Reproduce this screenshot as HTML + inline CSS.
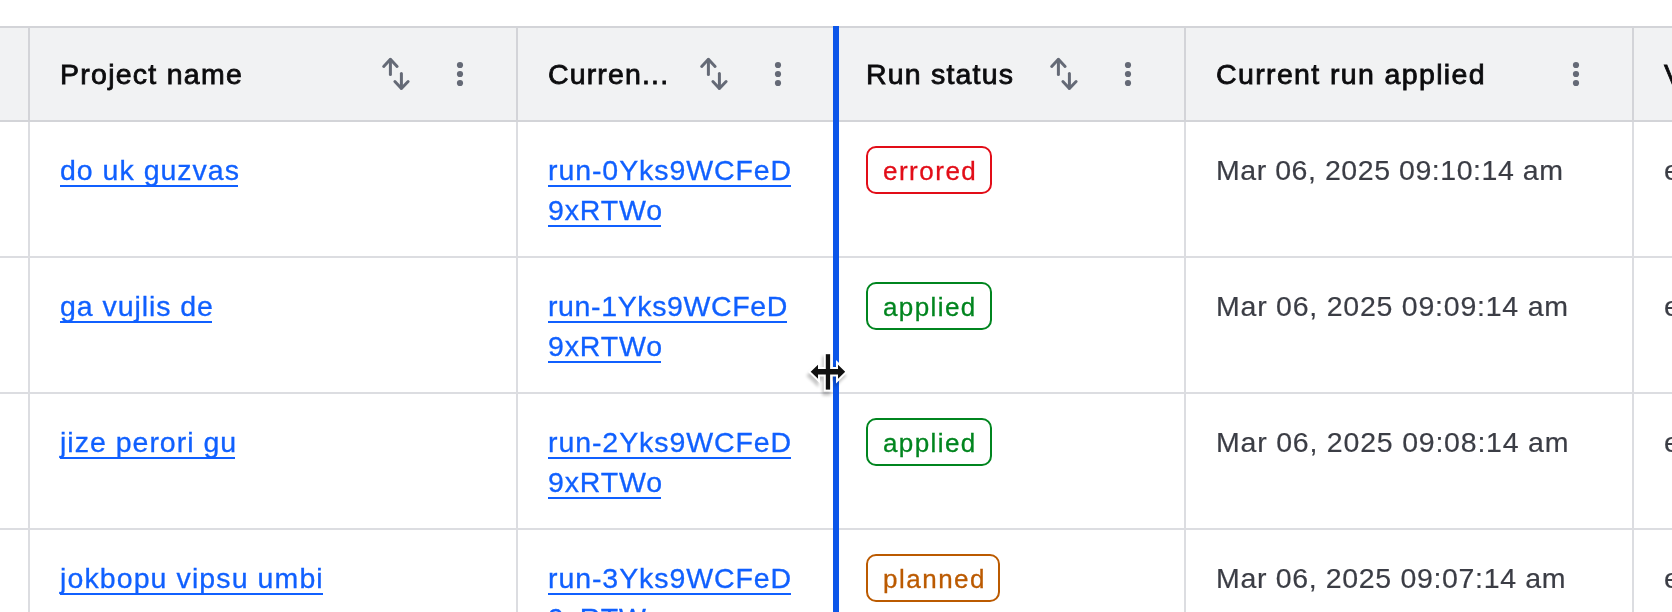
<!DOCTYPE html>
<html>
<head>
<meta charset="utf-8">
<style>
html,body{margin:0;padding:0;}
body{width:1672px;height:612px;overflow:hidden;background:#ffffff;position:relative;font-family:"Liberation Sans",sans-serif;}
.a{position:absolute;}
.hl{position:absolute;left:0;width:1672px;height:2px;background:#dcdde1;}
.vl{position:absolute;top:26px;width:2px;height:586px;background:#dcdde1;}
.th{position:absolute;top:60px;font-size:28.5px;line-height:29px;font-weight:400;-webkit-text-stroke:0.8px #0c0c0e;color:#0c0c0e;white-space:nowrap;}
.lk{position:absolute;font-size:28.5px;line-height:40px;-webkit-text-stroke:0.3px #1060ff;color:#1060ff;white-space:nowrap;}
.ul{position:absolute;height:2px;background:#1060ff;}
.dt{position:absolute;font-size:28.5px;line-height:29px;-webkit-text-stroke:0.2px #3b3d45;color:#3b3d45;white-space:nowrap;}
.bd{position:absolute;left:866px;height:48px;box-sizing:border-box;border:2px solid;border-radius:10px;font-size:26px;line-height:46px;-webkit-text-stroke:0.3px currentColor;white-space:nowrap;}
.er{color:#e20d18;border-color:#e20d18;}
.ap{color:#00851f;border-color:#00851f;}
.pl{color:#bb5a00;border-color:#bb5a00;}
</style>
</head>
<body>
<div id="root" style="position:absolute;left:0;top:0;width:1672px;height:612px;will-change:transform;">
<div class="a" style="left:0;top:28px;width:1672px;height:92px;background:#f1f2f3;"></div>
<div class="vl" style="left:28px;top:28px;height:92px;background:#d3d4d8;"></div>
<div class="vl" style="left:28px;top:122px;height:490px;"></div>
<div class="vl" style="left:516px;top:28px;height:92px;background:#d3d4d8;"></div>
<div class="vl" style="left:516px;top:122px;height:490px;"></div>
<div class="vl" style="left:834px;top:28px;height:92px;background:#d3d4d8;"></div>
<div class="vl" style="left:834px;top:122px;height:490px;"></div>
<div class="vl" style="left:1184px;top:28px;height:92px;background:#d3d4d8;"></div>
<div class="vl" style="left:1184px;top:122px;height:490px;"></div>
<div class="vl" style="left:1632px;top:28px;height:92px;background:#d3d4d8;"></div>
<div class="vl" style="left:1632px;top:122px;height:490px;"></div>
<div class="hl" style="top:26px;background:#d3d4d8;"></div>
<div class="hl" style="top:120px;background:#d3d4d8;"></div>
<div class="hl" style="top:256px;"></div>
<div class="hl" style="top:392px;"></div>
<div class="hl" style="top:528px;"></div>
<div class="th" style="left:60px;letter-spacing:1.26px;">Project name</div>
<div class="th" style="left:548px;letter-spacing:1.15px;">Curren...</div>
<div class="th" style="left:866px;letter-spacing:1.2px;">Run status</div>
<div class="th" style="left:1216px;letter-spacing:1.37px;">Current run applied</div>
<div class="th" style="left:1664px;">V</div>
<svg class="a" style="left:0;top:0;" width="1672" height="122">
<defs>
<g id="sw" fill="none" stroke="#656a76" stroke-width="3" stroke-linecap="round" stroke-linejoin="round">
<polyline points="1.7,9.5 8.4,2.3 15.1,9.5"/><line x1="8.4" y1="2.8" x2="8.4" y2="17.5"/>
<polyline points="12.9,24.5 19.4,31.5 26.1,24.5"/><line x1="19.4" y1="16.4" x2="19.4" y2="31"/>
</g>
<g id="dots" fill="#656a76"><circle cx="0" cy="65" r="3.1"/><circle cx="0" cy="74" r="3.1"/><circle cx="0" cy="83" r="3.1"/></g>
</defs>
<use href="#sw" x="382" y="57"/><use href="#dots" x="460" y="0"/>
<use href="#sw" x="700" y="57"/><use href="#dots" x="778" y="0"/>
<use href="#sw" x="1050" y="57"/><use href="#dots" x="1128" y="0"/>
<use href="#dots" x="1576" y="0"/>
</svg>
<div class="lk" style="left:60px;top:150px;letter-spacing:1.0px;">do uk guzvas</div>
<div class="ul" style="left:60px;top:185px;width:178px;"></div>
<div class="lk" style="left:548px;top:150px;"><span style="letter-spacing:0.92px">run-0Yks9WCFeD</span><br><span style="letter-spacing:0.85px">9xRTWo</span></div>
<div class="ul" style="left:548px;top:185px;width:243px;"></div>
<div class="ul" style="left:548px;top:225px;width:113px;"></div>
<div class="bd er" style="top:146px;width:126px;padding-left:15px;letter-spacing:1.5px;">errored</div>
<div class="dt" style="left:1216px;top:156px;letter-spacing:0.55px;">Mar 06, 2025 09:10:14 am</div>
<div class="dt" style="left:1664px;top:156px;">e</div>
<div class="lk" style="left:60px;top:286px;letter-spacing:0.94px;">ga vujlis de</div>
<div class="ul" style="left:60px;top:321px;width:152px;"></div>
<div class="lk" style="left:548px;top:286px;"><span style="letter-spacing:0.62px">run-1Yks9WCFeD</span><br><span style="letter-spacing:0.85px">9xRTWo</span></div>
<div class="ul" style="left:548px;top:321px;width:239px;"></div>
<div class="ul" style="left:548px;top:361px;width:113px;"></div>
<div class="bd ap" style="top:282px;width:126px;padding-left:15px;letter-spacing:1.4px;">applied</div>
<div class="dt" style="left:1216px;top:292px;letter-spacing:0.77px;">Mar 06, 2025 09:09:14 am</div>
<div class="dt" style="left:1664px;top:292px;">e</div>
<div class="lk" style="left:60px;top:422px;letter-spacing:1.0px;">jize perori gu</div>
<div class="ul" style="left:60px;top:457px;width:175px;"></div>
<div class="lk" style="left:548px;top:422px;"><span style="letter-spacing:0.92px">run-2Yks9WCFeD</span><br><span style="letter-spacing:0.85px">9xRTWo</span></div>
<div class="ul" style="left:548px;top:457px;width:243px;"></div>
<div class="ul" style="left:548px;top:497px;width:113px;"></div>
<div class="bd ap" style="top:418px;width:126px;padding-left:15px;letter-spacing:1.4px;">applied</div>
<div class="dt" style="left:1216px;top:428px;letter-spacing:0.79px;">Mar 06, 2025 09:08:14 am</div>
<div class="dt" style="left:1664px;top:428px;">e</div>
<div class="lk" style="left:60px;top:558px;letter-spacing:1.1px;">jokbopu vipsu umbi</div>
<div class="ul" style="left:60px;top:593px;width:263px;"></div>
<div class="lk" style="left:548px;top:558px;"><span style="letter-spacing:0.92px">run-3Yks9WCFeD</span><br><span style="letter-spacing:0.85px">9xRTWo</span></div>
<div class="ul" style="left:548px;top:593px;width:243px;"></div>
<div class="ul" style="left:548px;top:633px;width:113px;"></div>
<div class="bd pl" style="top:554px;width:134px;padding-left:15px;letter-spacing:1.5px;">planned</div>
<div class="dt" style="left:1216px;top:564px;letter-spacing:0.66px;">Mar 06, 2025 09:07:14 am</div>
<div class="dt" style="left:1664px;top:564px;">e</div>
<div class="a" style="left:833px;top:26px;width:6px;height:586px;background:#0c56e9;"></div>
<svg class="a" style="left:0;top:0;" width="1672" height="612">
<defs><filter id="cs" x="-50%" y="-50%" width="200%" height="200%"><feGaussianBlur stdDeviation="1.8"/></filter></defs>
<g transform="translate(-1.5,4)" filter="url(#cs)" opacity="0.22">
<path d="M810.7,371.7 L818,364.7 L818,369 L838,369 L838,364.7 L845.2,371.7 L838,378.8 L838,374.5 L818,374.5 L818,378.8 Z" fill="#000" stroke="#000" stroke-width="4" stroke-linejoin="miter"/>
<rect x="825.8" y="354.2" width="4.3" height="35.4" fill="#000" stroke="#000" stroke-width="4"/>
</g>
<g fill="#fff" stroke="#fff" stroke-width="4" stroke-linejoin="miter" stroke-miterlimit="3">
<path d="M810.7,371.7 L818,364.7 L818,369 L838,369 L838,364.7 L845.2,371.7 L838,378.8 L838,374.5 L818,374.5 L818,378.8 Z"/>
<rect x="825.8" y="354.2" width="4.3" height="35.4"/>
</g>
<g fill="#111">
<path d="M810.7,371.7 L818,364.7 L818,369 L838,369 L838,364.7 L845.2,371.7 L838,378.8 L838,374.5 L818,374.5 L818,378.8 Z"/>
<rect x="825.8" y="354.2" width="4.3" height="35.4"/>
</g>
</svg>

</div>
</body>
</html>
